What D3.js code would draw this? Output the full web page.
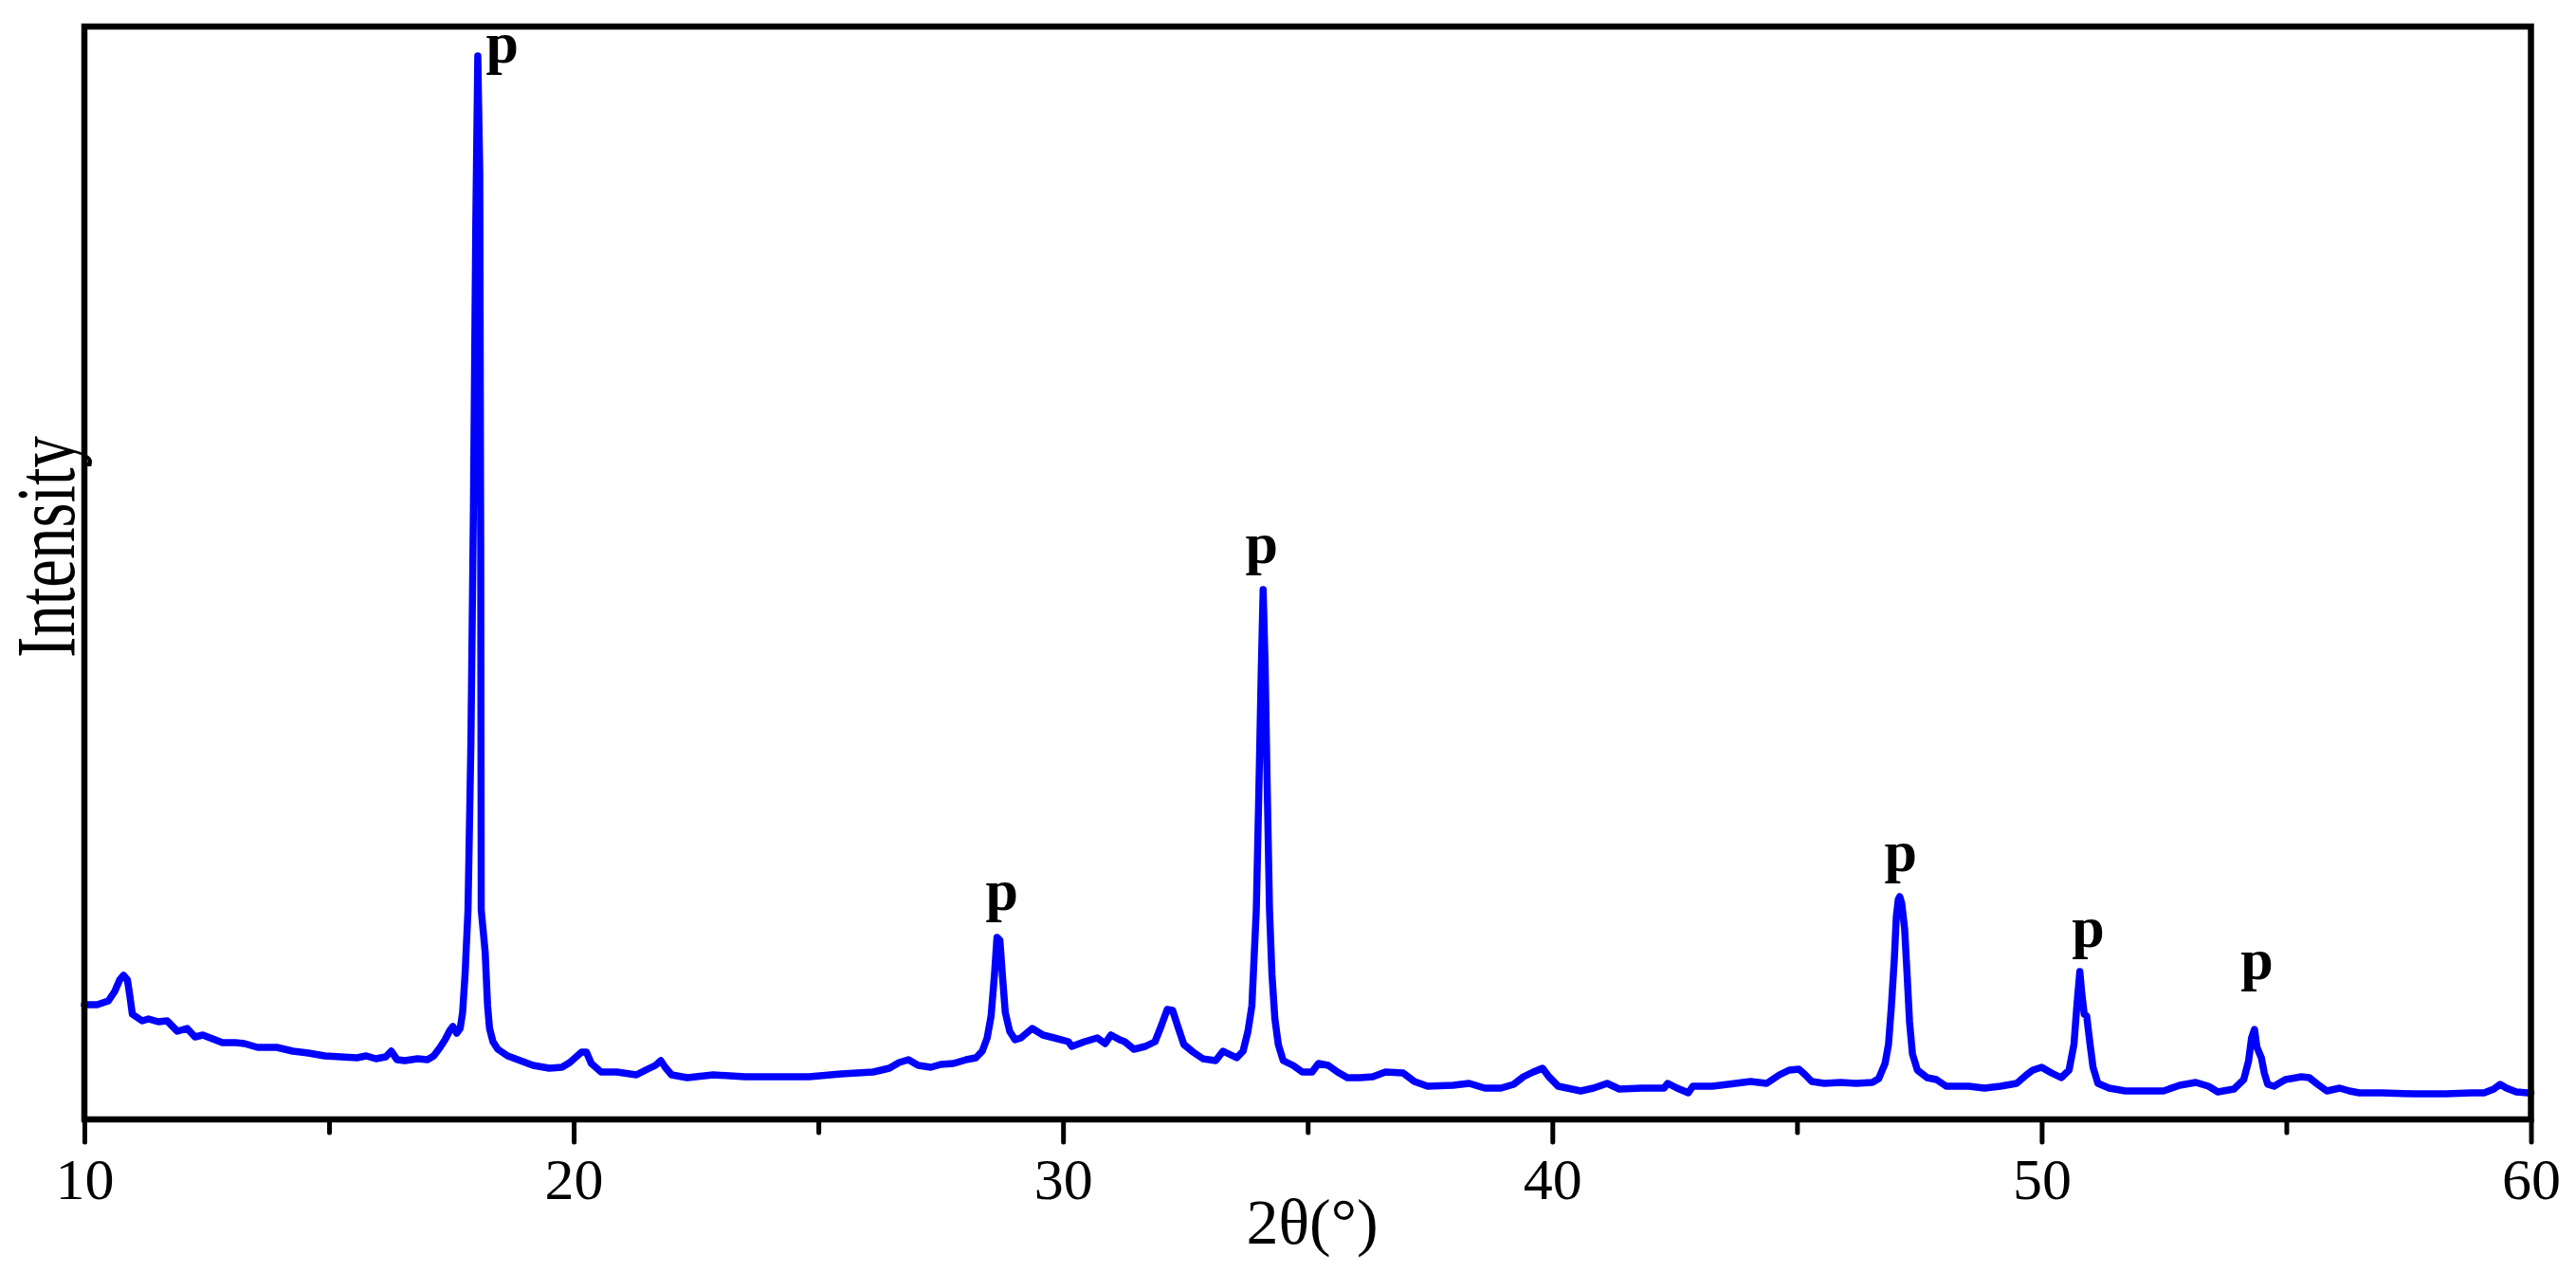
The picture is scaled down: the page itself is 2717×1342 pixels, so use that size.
<!DOCTYPE html>
<html>
<head>
<meta charset="utf-8">
<script src="https://cdn.jsdelivr.net/npm/d3@7"></script>
<style>
  html, body { margin: 0; padding: 0; background: #fff; }
  svg { display: block; }
</style>
</head>
<body>
<script>
// ---- data (2θ in degrees, intensity in arbitrary units) ----
const twoTheta = [
  10.00,10.26,10.49,10.62,10.72,10.80,10.88,10.93,10.98,11.18,11.31,11.51,11.69,11.90,12.10,12.26,12.42,12.62,12.82,13.08,
  13.27,13.54,13.93,14.26,14.58,14.91,15.24,15.57,15.76,15.96,16.16,16.27,16.39,16.55,16.81,17.01,17.14,17.27,17.37,17.47,
  17.53,17.61,17.68,17.73,17.78,17.84,17.90,17.95,18.00,18.04,18.08,18.10,18.11,18.19,18.24,18.28,18.35,18.45,18.65,18.91,
  19.17,19.50,19.76,19.92,20.16,20.26,20.36,20.56,20.88,21.28,21.47,21.67,21.78,21.87,22.00,22.32,22.85,23.50,24.16,24.81,
  25.47,26.12,26.45,26.65,26.84,27.04,27.30,27.50,27.76,28.02,28.22,28.35,28.45,28.53,28.60,28.65,28.71,28.76,28.82,28.91,
  29.02,29.14,29.37,29.59,29.82,30.11,30.18,30.44,30.70,30.86,30.98,31.16,31.26,31.45,31.68,31.88,32.01,32.13,32.24,32.34,
  32.47,32.66,32.86,33.12,33.27,33.39,33.55,33.68,33.78,33.86,33.92,33.95,34.00,34.05,34.09,34.13,34.17,34.22,34.27,34.33,
  34.40,34.50,34.70,34.89,35.09,35.22,35.42,35.61,35.81,36.07,36.33,36.59,36.95,37.18,37.45,37.97,38.30,38.62,38.95,39.21,
  39.41,39.61,39.80,39.93,40.12,40.58,40.84,41.12,41.37,41.83,42.28,42.36,42.55,42.78,42.87,43.27,43.59,44.05,44.38,44.64,
  44.84,45.04,45.17,45.30,45.56,45.89,46.21,46.54,46.67,46.80,46.87,46.93,46.99,47.03,47.07,47.10,47.14,47.20,47.25,47.30,
  47.36,47.46,47.66,47.85,48.05,48.51,48.83,49.16,49.49,49.69,49.82,50.00,50.20,50.40,50.56,50.66,50.72,50.78,50.82,50.87,
  50.92,50.99,51.05,51.15,51.38,51.71,52.16,52.49,52.82,53.15,53.41,53.60,53.93,54.13,54.23,54.29,54.35,54.40,54.49,54.55,
  54.62,54.75,54.98,55.31,55.47,55.64,55.83,56.09,56.29,56.49,56.95,57.60,58.26,58.78,59.04,59.24,59.37,59.50,59.70,59.93,
  60.00
];
const intensity = [
  121,121,125,135,147,152,147,130,111,104,106,103,104,93,96,87,89,85,81,81,
  80,76,76,72,70,67,66,65,67,64,66,72,63,62,64,63,67,76,84,94,
  98,91,96,113,153,221,400,640,950,1122,1000,600,221,177,120,96,82,74,67,62,
  57,54,55,60,71,71,59,50,50,47,52,57,62,55,47,44,47,45,45,45,
  48,50,54,60,63,57,55,58,59,63,65,72,86,109,153,192,189,153,113,93,
  84,86,96,89,86,82,77,82,86,80,89,84,82,74,77,82,99,116,115,99,
  79,71,64,62,72,69,65,72,93,120,187,221,340,470,559,480,360,221,153,106,
  79,62,57,50,50,59,57,50,44,44,45,50,49,40,35,36,38,33,33,37,
  45,50,54,45,35,30,33,38,32,33,33,38,33,28,35,35,37,40,38,47,
  52,53,47,40,38,39,38,39,43,59,79,120,170,214,232,235,228,201,153,103,
  69,52,44,42,35,35,33,35,38,47,52,55,49,44,52,79,120,156,133,111,
  109,79,55,38,33,30,30,30,36,39,35,29,32,42,62,86,95,76,65,49,
  37,35,42,45,44,37,30,33,30,28,28,27,27,28,28,32,37,33,29,28,
  28
];
// peak markers
const peakLabels = ["p","p","p","p","p","p"];
const peakLabelTheta = [18.54, 28.75, 34.06, 47.12, 50.95, 54.40];
const peakLabelIntensity = [1115, 221, 587, 262, 182, 148];
// axes
const xMajorTicks = [10, 20, 30, 40, 50, 60];
const xMinorTicks = [15, 25, 35, 45, 55];
const xTitle = "2θ(°)";
const yTitle = "Intensity";

// ---- layout ----
const W = 2717, H = 1342;
const mLeft = 89, mRight = 2669.5, mTop = 28, mBottom = 1181;

const svg = d3.select("body").append("svg")
  .attr("width", W).attr("height", H)
  .style("background", "#fff");

const x = d3.scaleLinear().domain([10, 60]).range([mLeft, mRight]);
const y = d3.scaleLinear().domain([0, 1153]).range([mBottom, mTop]);

const data = twoTheta.map((t, i) => ({t, v: intensity[i]}));

const fontFam = "'Liberation Serif', 'Times New Roman', serif";

// curve
svg.append("path")
  .datum(data)
  .attr("fill", "none")
  .attr("stroke", "#0000ff")
  .attr("stroke-width", 7.5)
  .attr("stroke-linejoin", "round")
  .attr("stroke-linecap", "round")
  .attr("d", d3.line().x(d => x(d.t)).y(d => y(d.v)));

// frame
svg.append("rect")
  .attr("x", mLeft).attr("y", mTop)
  .attr("width", mRight - mLeft).attr("height", mBottom - mTop)
  .attr("fill", "none").attr("stroke", "#000").attr("stroke-width", 6.5);

// x axis ticks (major)
const axisMajor = d3.axisBottom(x).tickValues(xMajorTicks).tickSize(24).tickPadding(16)
  .tickFormat(d3.format("d"));
const gx = svg.append("g").attr("transform", `translate(0,${mBottom})`).call(axisMajor);
gx.select(".domain").remove();
gx.selectAll(".tick line").attr("stroke", "#000").attr("stroke-width", 5).attr("stroke-linecap", "round");
gx.selectAll(".tick text").attr("fill", "#000")
  .style("font-family", fontFam).style("font-size", "62px");

// minor ticks
const axisMinor = d3.axisBottom(x).tickValues(xMinorTicks).tickSize(14).tickFormat("");
const gm = svg.append("g").attr("transform", `translate(0,${mBottom})`).call(axisMinor);
gm.select(".domain").remove();
gm.selectAll(".tick line").attr("stroke", "#000").attr("stroke-width", 5).attr("stroke-linecap", "round");

// axis titles
svg.append("text")
  .attr("x", 1384).attr("y", 1312)
  .attr("text-anchor", "middle")
  .style("font-family", fontFam).style("font-size", "68px")
  .text(xTitle);

svg.append("text")
  .attr("transform", "translate(78,577) rotate(-90) scale(0.76,1)")
  .attr("text-anchor", "middle")
  .style("font-family", fontFam).style("font-size", "88px")
  .text(yTitle);

// peak labels
svg.append("g").selectAll("text")
  .data(peakLabels)
  .join("text")
  .attr("x", (d, i) => x(peakLabelTheta[i]))
  .attr("y", (d, i) => y(peakLabelIntensity[i]))
  .attr("text-anchor", "middle")
  .style("font-family", fontFam).style("font-size", "62px").style("font-weight", "bold")
  .text(d => d);
</script>
</body>
</html>
